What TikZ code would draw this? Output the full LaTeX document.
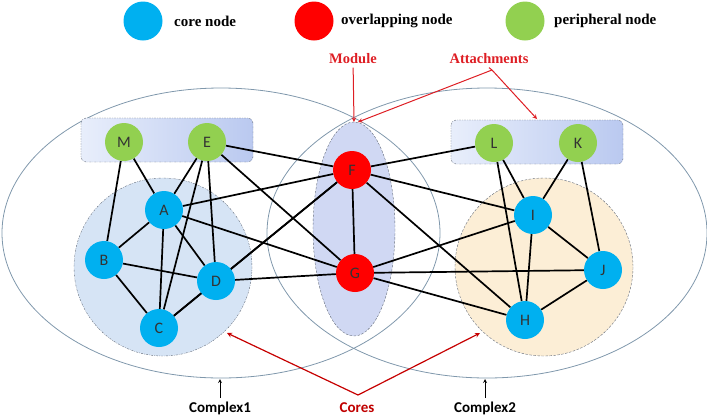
\documentclass[tikz,border=0pt]{standalone}
\usepackage{fontspec}
\setmainfont{Liberation Serif}
\newfontfamily\labelfont{Carlito}
\usetikzlibrary{positioning}

\definecolor{corecol}{RGB}{0,176,240}
\definecolor{overcol}{RGB}{255,0,0}
\definecolor{periphcol}{RGB}{146,208,80}
\definecolor{notered}{RGB}{222,30,36}
\definecolor{coresred}{RGB}{192,0,0}
\definecolor{complexline}{RGB}{128,152,172}
\definecolor{leftcorefill}{RGB}{214,228,245}
\definecolor{rightcorefill}{RGB}{252,238,214}
\definecolor{modulefill}{RGB}{208,216,243}
\definecolor{attachleft}{RGB}{232,238,251}
\definecolor{attachright}{RGB}{186,201,240}
\definecolor{boxline}{RGB}{100,108,122}

\pgfdeclarelayer{bg}
\pgfdeclarelayer{edgelayer}
\pgfsetlayers{bg,edgelayer,main}

\tikzset{
  vertex/.style={circle,minimum size=38pt,inner sep=0pt,font=\labelfont\fontsize{16}{16}\selectfont,text=black!80},
  corenode/.style={vertex,fill=corecol},
  overnode/.style={vertex,fill=overcol},
  periphnode/.style={vertex,fill=periphcol},
  keytext/.style={anchor=west,font=\bfseries\fontsize{15}{15}\selectfont},
  note/.style={text=notered,font=\bfseries\fontsize{14.5}{14.5}\selectfont},
  cplxtext/.style={font=\labelfont\bfseries\fontsize{15}{15}\selectfont},
  link/.style={line width=1.7pt},
  pointer/.style={->,notered,line width=1pt}
}

\begin{document}
\begin{tikzpicture}[x=1pt,y=-1pt,>=stealth]
  \useasboundingbox (0,0) rectangle (707,416);

  % legend
  \node[corenode,minimum size=39pt] (keycore) at (143,21) {};
  \node[keytext,right=8pt of keycore] (keycoretxt) {core node};
  \node[overnode,minimum size=39pt] (keyover) at (314,21) {};
  \node[keytext,right=4pt of keyover] (keyovertxt) {overlapping node};
  \node[periphnode,minimum size=39pt] (keyperiph) at (525,21) {};
  \node[keytext,right=6pt of keyperiph] (keyperiphtxt) {peripheral node};

  \begin{pgfonlayer}{bg}
    % complexes
    \draw[complexline,line width=.8pt] (221,233) ellipse (219 and 145);
    \draw[complexline,line width=.8pt] (487,233) ellipse (220 and 145);
    % cores, module and attachments
    \draw[boxline,dash pattern=on 2pt off 1.2pt on .6pt off 1.2pt,fill=leftcorefill] (163,267) circle (89);
    \draw[boxline,dash pattern=on 2.5pt off 1.5pt,fill=rightcorefill] (544,267) circle (89);
    \draw[boxline,dash pattern=on 2.5pt off 1.5pt,fill=modulefill] (354,229) ellipse (41 and 107);
    \draw[boxline,dash pattern=on 2pt off 1.2pt on .6pt off 1.2pt,rounded corners=5pt,
      left color=attachleft,right color=attachright] (81,118) rectangle (253,162);
    \draw[boxline,dash pattern=on 2pt off 1.2pt on .6pt off 1.2pt,rounded corners=5pt,
      left color=attachleft,right color=attachright] (451,120) rectangle (623,164);
  \end{pgfonlayer}

  % nodes
  \node[periphnode] (M) at (124,142) {M};
  \node[periphnode] (E) at (207,142) {E};
  \node[periphnode] (L) at (494,143) {L};
  \node[periphnode] (K) at (578,143) {K};
  \node[corenode] (A) at (164,210) {A};
  \node[corenode] (B) at (104,260) {B};
  \node[corenode] (C) at (159,328) {C};
  \node[corenode] (D) at (216,281) {D};
  \node[overnode] (F) at (352,170) {F};
  \node[overnode] (G) at (355,273) {G};
  \node[corenode] (I) at (533,215) {I};
  \node[corenode] (J) at (603,270) {J};
  \node[corenode] (H) at (525,320) {H};

  \begin{pgfonlayer}{edgelayer}
    \foreach \a/\b in {M/B,M/A,E/A,E/C,E/D,E/F,E/G,A/B,A/C,A/D,A/F,A/G,B/C,B/D,
        C/D,C/F,D/F,D/G,F/G,F/L,F/I,F/H,G/I,G/J,G/H,L/I,L/H,K/I,K/J,I/H,I/J,H/J} {
      \draw[link] (\a) -- (\b);
    }
  \end{pgfonlayer}

  % annotations
  \node[note] (module) at (353,59) {Module};
  \node[note] (attach) at (489,59) {Attachments};
  \coordinate (moduletop) at (354,122);
  \coordinate (attachbox) at (537,119);
  \coordinate (apex) at (492,70);
  \draw[pointer] (module) -- (moduletop);
  \draw[notered,line width=1pt] (attach.south) -- (apex);
  \draw[pointer] (apex) -- (358,122);
  \draw[pointer] (apex) -- (attachbox);

  \node[cplxtext,text=coresred] (cores) at (357,408) {Cores};
  \coordinate (coreapex) at (358,395);
  \coordinate (leftcore) at (227,333);
  \coordinate (rightcore) at (480,333);
  \draw[pointer,line width=1.2pt,coresred!90!red] (coreapex) -- (leftcore);
  \draw[pointer,line width=1.2pt,coresred!90!red] (coreapex) -- (rightcore);

  \node[cplxtext] (cplx1) at (220,408) {Complex1};
  \node[cplxtext] (cplx2) at (485,408) {Complex2};
  \coordinate (cplx1bot) at (220,379);
  \coordinate (cplx2bot) at (485,379);
  \draw[->,line width=.8pt] (cplx1) -- (cplx1bot);
  \draw[->,line width=.8pt] (cplx2) -- (cplx2bot);
\end{tikzpicture}
\end{document}
